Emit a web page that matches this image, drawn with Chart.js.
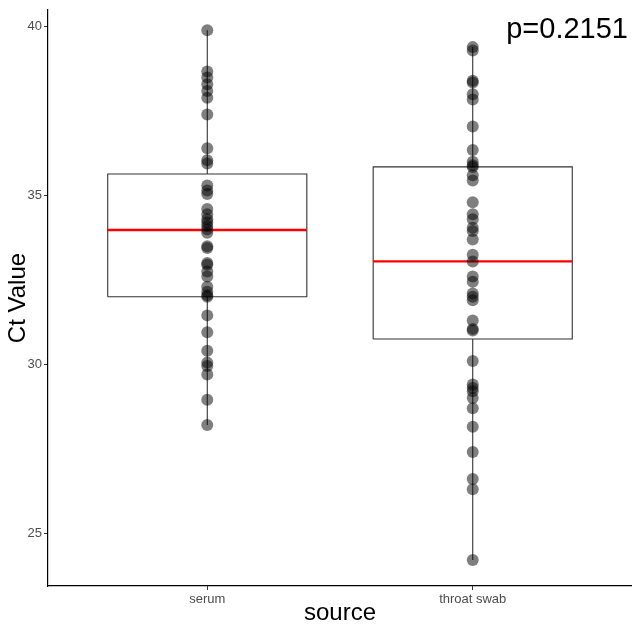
<!DOCTYPE html>
<html>
<head>
<meta charset="utf-8">
<script src="https://cdn.jsdelivr.net/npm/chart.js@4"></script>
<style>
  html, body { margin: 0; padding: 0; background: #fff; }
  #wrap { width: 632px; height: 627px; }
</style>
</head>
<body>
<div id="wrap"><canvas id="chart" width="632" height="627"></canvas></div>
<script>
// Data
const categories = ["serum", "throat swab"];
const yTicks = [25, 30, 35, 40];

const serumCt = [39.9, 38.68, 38.5, 38.3, 38.1, 37.9, 37.4, 36.4, 36.05, 35.95,
  35.3, 35.15, 35.05, 34.6, 34.45, 34.3, 34.2, 34.1, 34.0, 33.9,
  33.5, 33.45, 33.0, 32.95, 32.75, 32.6, 32.3, 32.15, 32.05, 32.0,
  31.45, 30.95, 30.4, 30.05, 29.95, 29.7, 28.95, 28.2];
const swabCt = [39.4, 39.3, 38.4, 38.35, 38.0, 37.85, 37.05, 36.35, 36.0, 35.9,
  35.85, 35.6, 35.45, 34.8, 34.45, 34.3, 34.05, 33.95, 33.7, 33.25,
  33.05, 32.6, 32.45, 32.1, 32.0, 31.9, 31.3, 31.05, 31.0, 30.1,
  29.4, 29.3, 29.2, 29.0, 28.7, 28.15, 27.4, 26.6, 26.3, 24.2];

// box stats: [lower whisker, q1, median, q3, upper whisker]
const serumBox = [28.2, 32.0, 33.98, 35.64, 39.9];
const swabBox = [24.2, 30.75, 33.05, 35.85, 39.4];
const pLabel = "p=0.2151";

const boxHalf = 0.375;
const font = "'Liberation Sans', Arial, sans-serif";

function boxOutline(pos, s) {
  return [
    { x: pos - boxHalf, y: s[1] }, { x: pos + boxHalf, y: s[1] },
    { x: pos + boxHalf, y: s[3] }, { x: pos - boxHalf, y: s[3] },
    { x: pos - boxHalf, y: s[1] }
  ];
}
function whiskers(pos, s) {
  return [
    { x: pos, y: s[0] }, { x: pos, y: s[1] }, { x: NaN, y: NaN },
    { x: pos, y: s[3] }, { x: pos, y: s[4] }
  ];
}
function median(pos, s) {
  return [{ x: pos - boxHalf, y: s[2] }, { x: pos + boxHalf, y: s[2] }];
}

const lineDs = (data, color, width, order) => ({
  type: "scatter", data, showLine: true, spanGaps: false,
  borderColor: color, borderWidth: width, pointRadius: 0, pointHoverRadius: 0,
  fill: false, order
});
const pointDs = (data) => ({
  type: "scatter", data, showLine: false,
  pointRadius: 6, pointBorderWidth: 0,
  backgroundColor: "rgba(0,0,0,0.5)", borderColor: "rgba(0,0,0,0)", order: 1
});

const datasets = [
  lineDs(whiskers(1, serumBox), "#333333", 1.1, 5),
  lineDs(whiskers(2, swabBox), "#333333", 1.1, 5),
  lineDs(boxOutline(1, serumBox), "#333333", 1.1, 4),
  lineDs(boxOutline(2, swabBox), "#333333", 1.1, 4),
  lineDs(median(1, serumBox), "#ff0000", 2.4, 3),
  lineDs(median(2, swabBox), "#ff0000", 2.4, 3),
  pointDs(serumCt.map(v => ({ x: 1, y: v }))),
  pointDs(swabCt.map(v => ({ x: 2, y: v })))
];

// p value label
const pText = {
  id: "pText",
  afterDraw(chart) {
    const { ctx, scales } = chart;
    ctx.save();
    ctx.font = "29px " + font;
    ctx.fillStyle = "#000";
    ctx.textAlign = "right";
    ctx.textBaseline = "middle";
    ctx.fillText(pLabel, scales.x.getPixelForValue(2.6) - 4, scales.y.getPixelForValue(39.9));
    ctx.restore();
  }
};

new Chart(document.getElementById("chart"), {
  type: "scatter",
  data: { datasets },
  options: {
    responsive: false,
    animation: false,
    layout: { autoPadding: false, padding: { top: 10, right: 0, left: 0, bottom: 0 } },
    plugins: { legend: { display: false }, tooltip: { enabled: false } },
    scales: {
      x: {
        type: "linear", min: 0.4, max: 2.6,
        afterBuildTicks: s => { s.ticks = [{ value: 1 }, { value: 2 }]; },
        afterFit: s => { s.height = 41; },
        ticks: {
          callback: v => categories[v - 1],
          color: "#4d4d4d", font: { family: font, size: 13 }, padding: 2
        },
        grid: { drawOnChartArea: false, tickLength: 4, color: "#333333", tickWidth: 1 },
        border: { color: "#000", width: 1.2 },
        title: { display: true, text: "source", color: "#000", font: { family: font, size: 24, lineHeight: 1.1 }, padding: { top: 0, bottom: 0 } }
      },
      y: {
        min: 23.43, max: 40.5,
        afterBuildTicks: s => { s.ticks = yTicks.map(v => ({ value: v })); },
        afterFit: s => { s.width = 48; },
        ticks: { color: "#4d4d4d", font: { family: font, size: 13 }, padding: 2 },
        grid: { drawOnChartArea: false, tickLength: 4, color: "#333333", tickWidth: 1 },
        border: { color: "#000", width: 1.2 },
        title: { display: true, text: "Ct Value", color: "#000", font: { family: font, size: 24 }, padding: { top: 4, bottom: 0 } }
      }
    }
  },
  plugins: [pText]
});
</script>
</body>
</html>
